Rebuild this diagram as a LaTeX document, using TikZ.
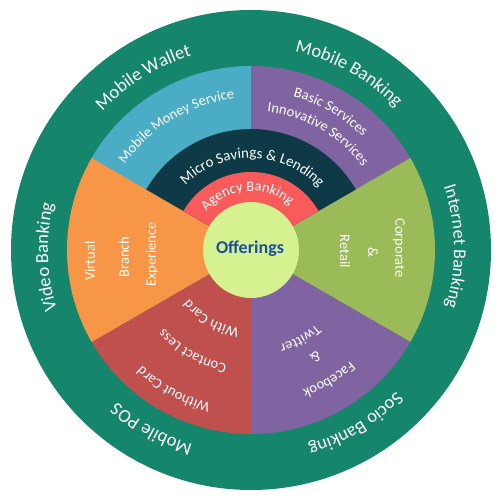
\documentclass[tikz,border=0pt]{standalone}
\usepackage{fontspec}
\setmainfont{Carlito}
\usetikzlibrary{decorations.text}
\definecolor{ring}{HTML}{15856B}
\definecolor{mblue}{HTML}{4BACC6}
\definecolor{mpurple}{HTML}{8064A2}
\definecolor{mgreen}{HTML}{9BBB59}
\definecolor{mred}{HTML}{C0504D}
\definecolor{morange}{HTML}{F79646}
\definecolor{mnavy}{HTML}{0D3A46}
\definecolor{magency}{HTML}{F95B5B}
\definecolor{mcore}{HTML}{D6F290}
\definecolor{mtext}{HTML}{1C4FA0}
% radius, centre angle, half span, font size, text
\newcommand\arctext[5]{%
  \path[decorate,decoration={text along path,text align=center,text color=white,
    text={|\fontsize{#4pt}{#4pt}\selectfont|#5}}]
    (C) ++(#2+#3:#1) arc[start angle=#2+#3,end angle=#2-#3,radius=#1];}
\newcommand\mysector[4]{% colour, from angle, to angle, radius
  \fill[#1] (C) -- ++(#2:#4) arc[start angle=#2,end angle=#3,radius=#4] -- cycle;}
\tikzset{
  straight/.style={text=white,font=\fontsize{14.5pt}{15pt}\selectfont,inner sep=0pt},
}
\begin{document}
\begin{tikzpicture}[x=1pt,y=1pt]
\useasboundingbox (0,0) rectangle (498,498);
\coordinate (C) at (251,248);
\fill[ring] (C) circle (240);
\mysector{mblue}{90}{150}{184}
\mysector{mpurple}{30}{90}{184}
\mysector{mgreen}{-30}{30}{184}
\mysector{mpurple}{-90}{-30}{184}
\mysector{mred}{-150}{-90}{184}
\mysector{morange}{150}{210}{184}
\mysector{mnavy}{30}{150}{121}
\mysector{magency}{30}{150}{78}
\node[circle,fill=mcore,minimum size=96pt,inner sep=0pt] (core) at (C) {};
\node[text=mtext,font=\fontsize{18pt}{20pt}\selectfont\bfseries] (off) at (250,249) {Offerings};
% outer ring
\arctext{203}{122}{70}{18.5}{Mobile Wallet}
\arctext{203}{61}{70}{18.5}{Mobile Banking}
\arctext{203}{1}{70}{18}{Internet Banking}
\arctext{203}{-59}{70}{18.5}{Socio Banking}
\arctext{203}{-119}{70}{18.5}{Mobile POS}
\arctext{203}{182}{70}{18.5}{Video Banking}
% top wedges
\arctext{152}{121}{70}{14.5}{Mobile Money Service}
\arctext{159}{60}{70}{14.5}{Basic Services}
\arctext{139}{60}{70}{14.5}{Innovative Services}
\arctext{92}{89}{80}{15}{Micro Savings {\&} Lending}
\arctext{59}{94}{85}{14.5}{Agency Banking}
% bottom wedges
\arctext{79}{-120}{80}{14.5}{With Card}
\arctext{117}{-120}{70}{14.5}{Contact Less}
\arctext{159}{-119}{70}{14.5}{Without Card}
\arctext{99}{-61}{70}{14.5}{Twitter}
\arctext{120}{-59}{70}{14.5}{{\&}}
\arctext{149}{-59}{70}{14.5}{Facebook}
% straight texts
\node[straight,rotate=90] (v1) at (90,237) {Virtual};
\node[straight,rotate=90] (v2) at (124,241) {Branch};
\node[straight,rotate=90] (v3) at (152,243.5) {Experience};
\node[straight,rotate=-90] (c1) at (399,250) {Corporate};
\node[straight,rotate=-90] (c2) at (373,246) {\&};
\node[straight,rotate=-90] (c3) at (345,246.5) {Retail};
\end{tikzpicture}
\end{document}
